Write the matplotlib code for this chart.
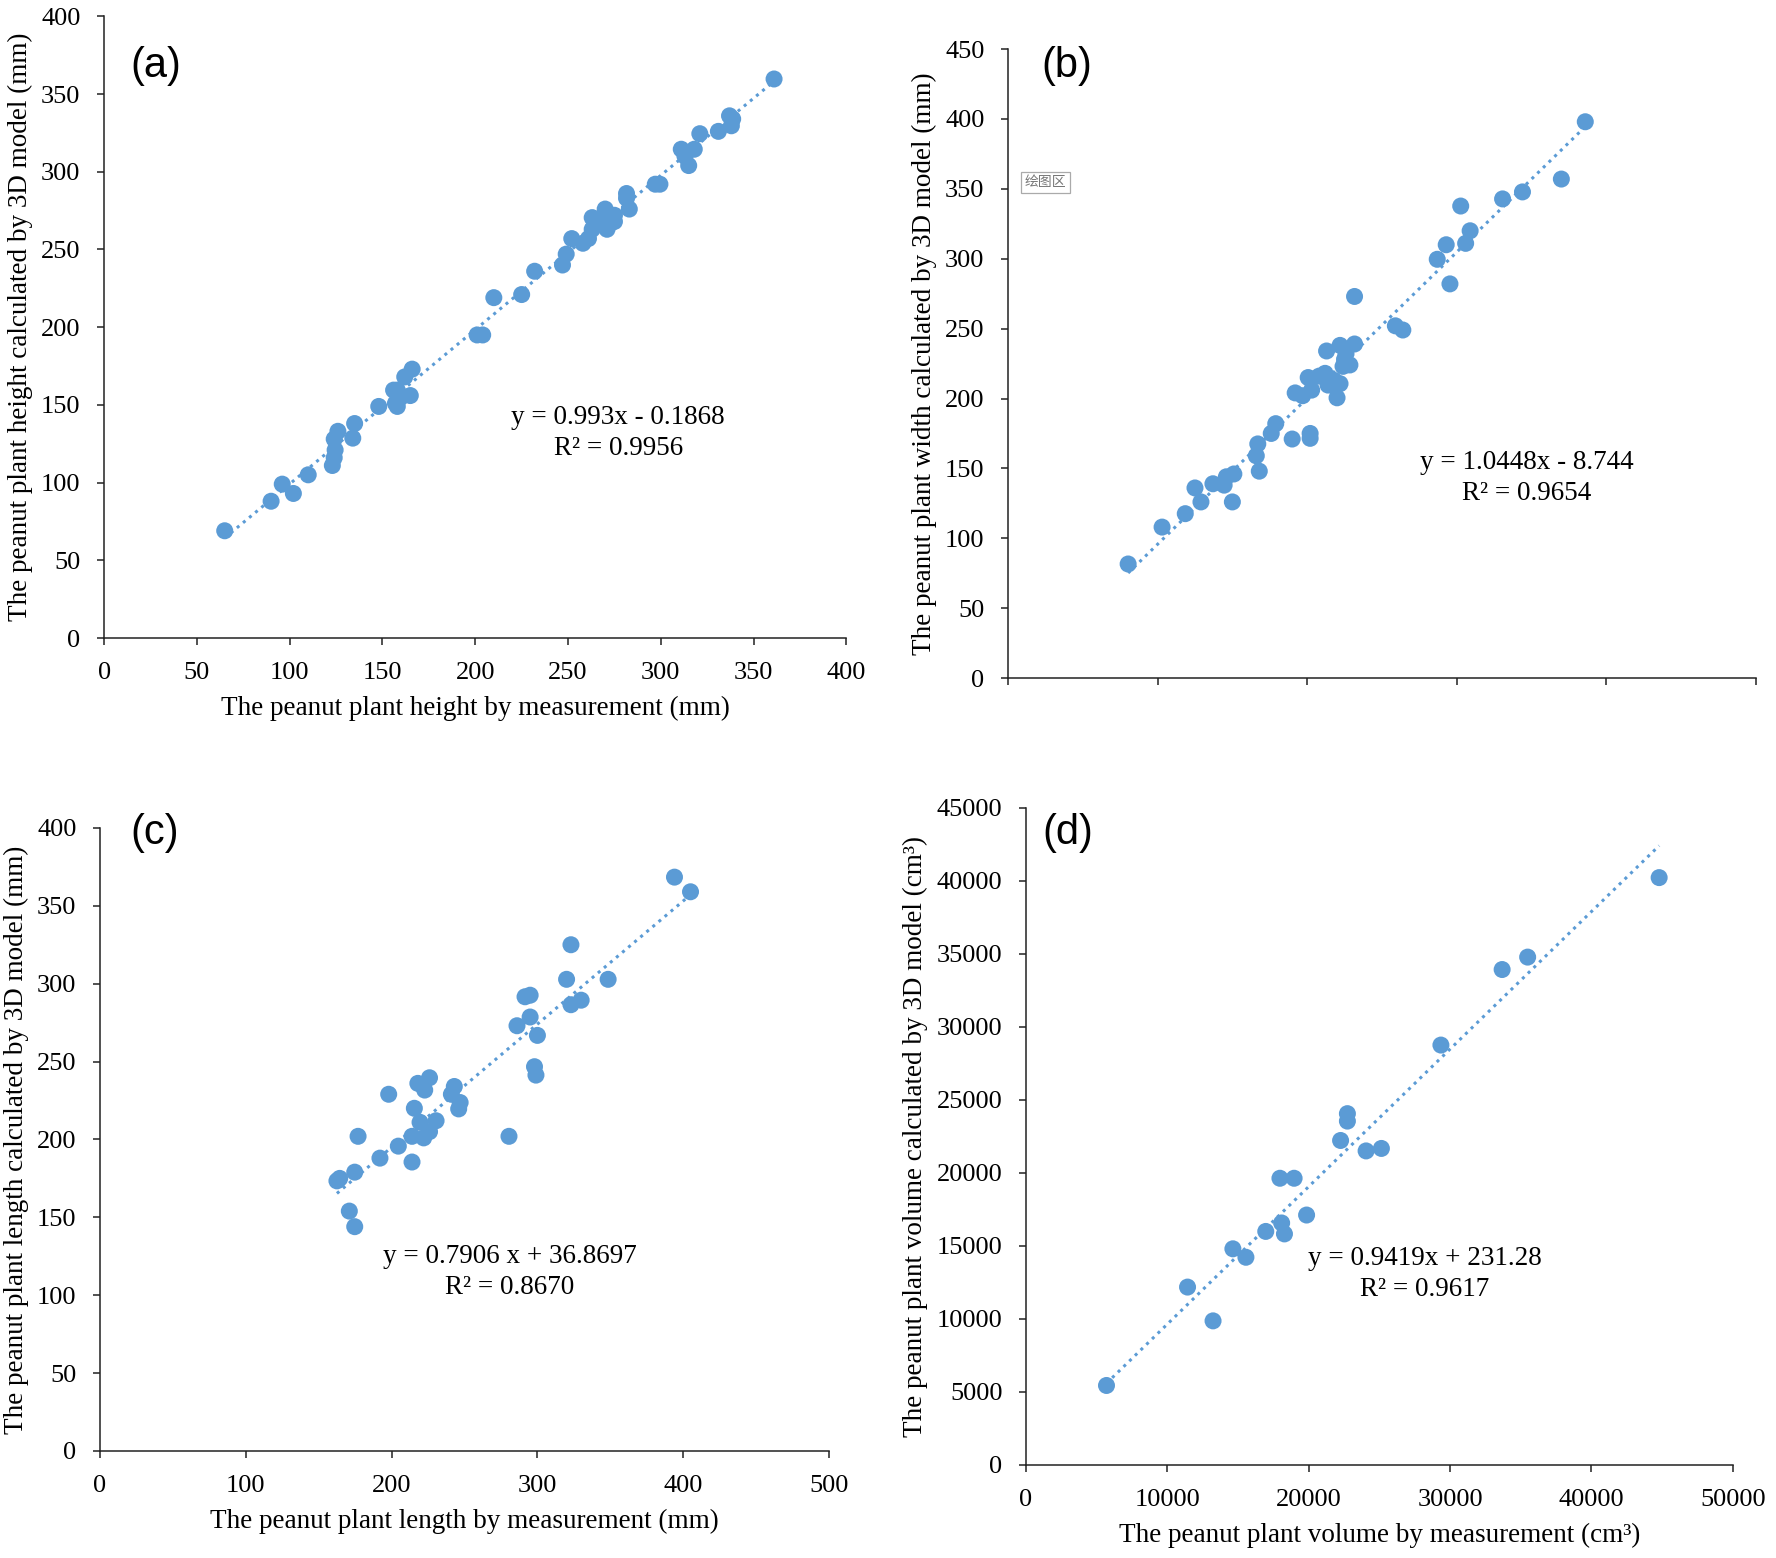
import matplotlib
matplotlib.use('Agg')
import matplotlib.pyplot as plt
import numpy as np

# panel (a) plant height (mm)
height_meas = [65, 90, 96, 102, 110, 123, 124, 124.5, 124, 126, 134, 135, 148, 156, 157, 158, 158,
               160, 165, 162, 166, 201, 204, 210, 225, 232, 247, 249, 252, 258, 261, 263, 263,
               267.6, 270, 271, 273, 275, 275, 283, 281.5, 281.5, 297, 299.5, 311, 313, 315, 318,
               321, 331, 337, 338, 338.7, 361]
height_model = [69, 88, 99, 93, 105, 111, 116, 121, 128, 133, 128.6, 138, 149, 159.5, 151, 149, 159.5,
                155, 156, 168, 173, 195, 195, 219, 221, 236, 240, 247, 257, 254, 257, 263, 270.5,
                267, 276, 263, 267, 272, 268, 276, 286, 283, 292, 292, 314.5, 310, 304, 314.5,
                324.5, 326, 336, 329.6, 334, 359.7]

# panel (b) plant width (mm)
width_meas = [80.3, 103, 118.5, 125, 129, 137, 144.5, 146, 151, 150, 166, 167, 168, 176, 179, 190,
              192, 197, 200.7, 202, 202, 203, 208, 212, 213, 214, 218, 220, 222, 222, 224, 225,
              226, 228.6, 231.7, 231.7, 259, 264, 287, 293, 295.5, 302.7, 306, 309, 330.7, 344,
              370, 386]
width_model = [81.6, 108, 117.6, 136, 126, 139, 138, 144, 146, 126, 159, 167.5, 148, 175, 182, 171,
               204, 202, 215, 175, 171.5, 206, 216, 218, 234, 209.6, 213, 200.5, 210.6, 238, 223,
               228, 232, 224, 239, 273, 252, 249, 299.6, 310, 282, 337.7, 311, 320, 342.8, 347.8,
               357, 398]

# panel (c) plant length (mm)
length_meas = [162.5, 164.4, 171, 174.7, 174.7, 177, 192, 198, 204.6, 214, 214, 215.6, 218, 219.5,
               222, 222.7, 226, 226, 230.5, 241, 243, 246, 247, 280.5, 286, 291.5, 295, 295, 298,
               299, 300, 320, 323, 323, 330, 348.5, 394, 405]
length_model = [173.4, 175, 154, 144, 179, 202, 188, 229, 195.7, 185.5, 202, 220, 236, 211, 201,
                231.7, 239.6, 205, 212, 229, 234, 219.6, 223.7, 202, 273, 291.6, 292.6, 278.6,
                246.7, 241.3, 266.8, 302.8, 325, 286.5, 289.4, 302.8, 368.4, 359]

# panel (d) plant volume (cm3)
volume_meas = [5694, 11427, 13232, 14635, 15557, 16960, 17963, 18083, 18283, 18965, 19848, 22253,
               22735, 22735, 24058, 25140, 29350, 33681, 35485, 44787]
volume_model = [5446, 12185, 9871, 14806, 14227, 15997, 19639, 16576, 15827, 19639, 17120, 22226,
                24064, 23553, 21511, 21681, 28761, 33935, 34786, 40231]

# trend line coefficients (slope, intercept) as printed on the chart
fit_a = [0.993, -0.1868]
fit_b = [1.0448, -8.744]
fit_c = [0.7906, 36.8697]
fit_d = [0.9419, 231.28]

eq_a = 'y = 0.993x - 0.1868\nR² = 0.9956'
eq_b = 'y = 1.0448x - 8.744\nR² = 0.9654'
eq_c = 'y = 0.7906 x + 36.8697\nR² = 0.8670'
eq_d = 'y = 0.9419x + 231.28\nR² = 0.9617'

blue = '#5B9BD5'
serif = 'Liberation Serif'

fig = plt.figure(figsize=(17.76, 15.58), dpi=100)

ax_a = fig.add_axes([0.0586, 0.5905, 0.418, 0.399])
ax_b = fig.add_axes([0.5676, 0.5648, 0.421, 0.4037])
ax_c = fig.add_axes([0.0563, 0.0687, 0.4105, 0.3999])
ax_d = fig.add_axes([0.5777, 0.0597, 0.398, 0.4217])


def style(ax, xmax, xstep, ymax, ystep, xlabel, ylabel, show_x=True):
    for s in ['top', 'right']:
        ax.spines[s].set_visible(False)
    for s in ['left', 'bottom']:
        ax.spines[s].set_color('#222222')
        ax.spines[s].set_linewidth(1.1)
    ax.set_xlim(0, xmax)
    ax.set_ylim(0, ymax)
    ax.set_xticks(np.arange(0, xmax + 1, xstep))
    ax.set_yticks(np.arange(0, ymax + 1, ystep))
    ax.tick_params(direction='out', length=5, width=1.1, color='#222222',
                   labelsize=19, pad=12)
    for lab in ax.get_xticklabels() + ax.get_yticklabels():
        lab.set_fontfamily(serif)
    if not show_x:
        ax.set_xticklabels([])
    if xlabel:
        ax.set_xlabel(xlabel, fontsize=19.5, family=serif, labelpad=9)
    ax.set_ylabel(ylabel, fontsize=19.5, family=serif, labelpad=6)


def panel(ax, xs, ys, fit, eq, eq_xy, tag, tag_xy):
    xr = np.array([min(xs), max(xs)])
    ax.plot(xr, fit[0] * xr + fit[1], color=blue, lw=2.2, linestyle=(0, (1, 1.6)), zorder=2)
    ax.scatter(xs, ys, s=150, color=blue, edgecolors='none', zorder=3)
    ax.text(eq_xy[0], eq_xy[1], eq, ha='center', va='center', fontsize=19.5,
            family=serif, linespacing=1.35)
    ax.text(tag_xy[0], tag_xy[1], tag, transform=ax.transAxes, ha='left', va='center',
            fontsize=30, family='Liberation Sans')


style(ax_a, 400, 50, 400, 50, 'The peanut plant height by measurement (mm)',
      'The peanut plant height calculated by 3D model (mm)')
panel(ax_a, height_meas, height_model, fit_a, eq_a, (277, 132), '(a)', (0.035, 0.92))

style(ax_b, 500, 100, 450, 50, None,
      'The peanut plant width calculated by 3D model (mm)', show_x=False)
panel(ax_b, width_meas, width_model, fit_b, eq_b, (347, 143), '(b)', (0.045, 0.973))
ax_b.text(0.022, 0.788, '绘图区', transform=ax_b.transAxes, fontsize=10, color='#777777',
          family=['Noto Sans CJK SC', 'DejaVu Sans'], ha='left', va='center',
          bbox=dict(boxstyle='square,pad=0.25', fc='white', ec='#aaaaaa', lw=0.9))

style(ax_c, 500, 100, 400, 50, 'The peanut plant length by measurement (mm)',
      'The peanut plant length calculated by 3D model (mm)')
panel(ax_c, length_meas, length_model, fit_c, eq_c, (281, 115), '(c)', (0.041, 0.992))

style(ax_d, 50000, 10000, 45000, 5000, 'The peanut plant volume by measurement (cm³)',
      'The peanut plant volume calculated by 3D model (cm³)')
panel(ax_d, volume_meas, volume_model, fit_d, eq_d, (28218, 13080), '(d)', (0.023, 0.962))

fig.savefig('out.png', dpi=100)
